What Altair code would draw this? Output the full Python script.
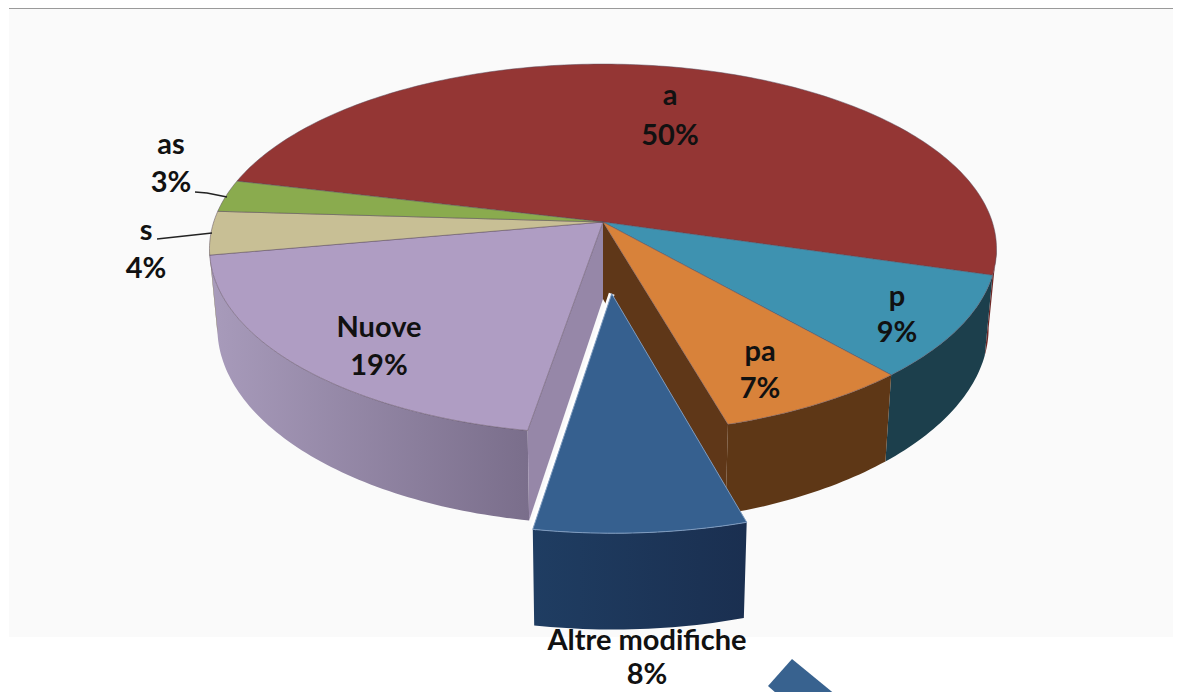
import math
import altair as alt

# ---- data
names = ["a", "p", "pa", "Altre modifiche", "Nuove", "s", "as"]
shares = [50.8, 9, 7, 7.1, 19.5, 3.8, 2.8]
top_colors = ["#943634", "#3E92B0", "#D8823A", "#36608F", "#AF9DC3", "#C8BF95", "#8AAB4E"]
wall_colors = ["#6F2826", "#1C3F4C", "#5E3716", "#1C3557", "#8E8199", "#968F70", "#66803A"]
label_lines = [["a", "50%"], ["p", "9%"], ["pa", "7%"], ["Altre modifiche", "8%"],
               ["Nuove", "19%"], ["s", "4%"], ["as", "3%"]]
label_x = [670, 897, 760, 647, 379, 146, 171]
label_y = [[96, 136], [297, 333], [352, 389], [641, 675], [328, 366], [231, 269], [145, 183]]

# ---- layout of the perspective pie (page pixels)
OX, OY = 8, 8
W, H_PAGE = 1165, 684
CX, CY = 603, 222
A, B, K = 389.3, 181.0, 0.146
H = 77.0
SHRINK = 0.98
START = 283.5
EXPLODE = 0.375
FONT = "Lato"
FSIZE = 29
PROJ = dict(type="identity", scale=1, translate=[0, 0])


def ground(t, r=1.0, ex=None):
    rad = math.radians(t)
    gx, gy = r * math.sin(rad), r * math.cos(rad)
    if ex is not None:
        e = math.radians(ex)
        gx += EXPLODE * math.sin(e)
        gy += EXPLODE * math.cos(e)
    return gx, gy


def top(t, r=1.0, ex=None):
    gx, gy = ground(t, r, ex)
    d = 1 + K * gy
    return [CX + A * gx / d - OX, CY - B * gy / d - OY]


def bottom(t, r=1.0, ex=None):
    gx, gy = ground(t, r, ex)
    d = 1 + K * gy
    return [CX + SHRINK * A * gx / d - OX, CY - B * gy / d + H / d - OY]


def arc_angles(t0, t1):
    n = max(2, int(abs(t1 - t0)) + 1)
    return [t0 + (t1 - t0) * i / n for i in range(n + 1)]


def poly(points):
    pts = [list(p) for p in points] + [list(points[0])]
    return alt.Data(values=[{"type": "Feature", "properties": {},
                             "geometry": {"type": "Polygon", "coordinates": [pts]}}])


def line(points):
    return alt.Data(values=[{"type": "Feature", "properties": {},
                             "geometry": {"type": "LineString", "coordinates": [list(p) for p in points]}}])


def shape(points, fill, stroke=None, sw=0.0):
    kw = {"fill": fill, "strokeWidth": sw}
    kw["stroke"] = stroke if stroke else "transparent"
    return alt.Chart(poly(points)).mark_geoshape(**kw).project(**PROJ)


def stroke_line(points, color, sw):
    return alt.Chart(line(points)).mark_geoshape(filled=False, stroke=color, strokeWidth=sw).project(**PROJ)


def hgrad(c0, c1):
    return alt.LinearGradient(gradient="linear", x1=0, x2=1, y1=0, y2=0,
                              stops=[alt.GradientStop(offset=0, color=c0),
                                     alt.GradientStop(offset=1, color=c1)])


# angular extents
edges = [START]
for s in shares:
    edges.append(edges[-1] + s * 3.6)
spans = list(zip(edges[:-1], edges[1:]))

VIS0, VIS1 = 98.4, 261.6
layers = []

# background panel and top rule
layers.append(shape([[1, 0], [W, 0], [W, 629], [1, 629]], "#FAFAFA"))
layers.append(stroke_line([[1, 0.5], [W, 0.5]], "#9A9A9A", 1.2))


def wall(t0, t1, fill, ex=None):
    a = arc_angles(t0, t1)
    pts = [top(t, ex=ex) for t in a] + [bottom(t, ex=ex) for t in reversed(a)]
    return shape(pts, fill)


# outer walls of the sectors that stay in place
for i, (t0, t1) in enumerate(spans):
    if i == 3:
        continue
    lo, hi = t0 % 360, (t0 % 360) + (t1 - t0)
    if i == 0:
        lo, hi = 0, (t1 % 360)
    lo, hi = max(lo, VIS0), min(hi, VIS1)
    if hi <= lo:
        continue
    fill = wall_colors[i]
    if i == 4:
        fill = hgrad("#A89BBB", "#7A6E8B")
    layers.append(wall(lo, hi, fill))

# cut faces exposed by the exploded sector
t_pa = spans[2][1]
t_nu = spans[4][0]
layers.append(shape([top(0, 0), top(t_pa), bottom(t_pa), bottom(0, 0)], "#5F3718"))
layers.append(shape([top(0, 0), top(t_nu), bottom(t_nu), bottom(0, 0)], "#9687A8"))

# top faces
for i, (t0, t1) in enumerate(spans):
    if i == 3:
        continue
    pts = [top(0, 0)] + [top(t) for t in arc_angles(t0, t1)]
    layers.append(shape(pts, top_colors[i], stroke="#5A4A5A", sw=0.5))

# exploded sector
t0, t1 = spans[3]
mid = (t0 + t1) / 2
layers.append(wall(t0, t1, hgrad("#1F3D62", "#1A2F50"), ex=mid))
pts = [top(0, 0, ex=mid)] + [top(t, ex=mid) for t in arc_angles(t0, t1)]
layers.append(stroke_line([top(t1, ex=mid), top(0, 0, ex=mid)], "white", 6))
layers.append(shape(pts, top_colors[3], stroke="#7E9BBF", sw=1.0))

# decorative arrow cut off by the page edge
layers.append(shape([[784, 651], [760, 678], [776, 692], [834, 692]], "#38628F"))

# leader lines
for pts in ([[187, 184], [199, 185], [219, 189]], [[149, 231], [204, 225]]):
    layers.append(stroke_line(pts, "#222222", 1.5))

# labels
rows = []
for lines, x, ys in zip(label_lines, label_x, label_y):
    for txt, y in zip(lines, ys):
        rows.append({"txt": txt, "px": x - OX, "py": y - OY})
layers.append(alt.Chart(alt.Data(values=rows)).mark_text(
    font=FONT, fontWeight="bold", fontSize=FSIZE, color="#111111",
    align="center", baseline="middle").encode(
        longitude="px:Q", latitude="py:Q", text="txt:N").project(**PROJ))

chart = alt.layer(*layers).properties(
    width=W, height=H_PAGE, padding=0, background="white",
    autosize=alt.AutoSizeParams(type="none")
).configure_view(stroke=None)

chart.save("out.html", embed_options={"renderer": "svg", "actions": False})
